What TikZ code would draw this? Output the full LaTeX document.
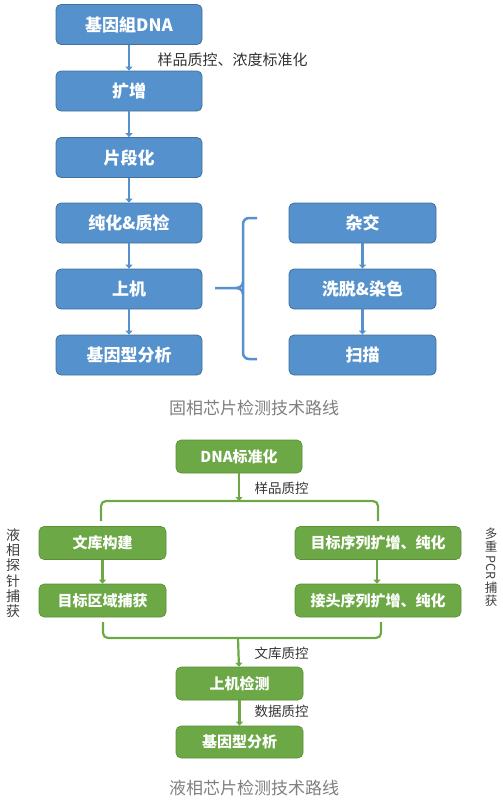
\documentclass[tikz,border=0pt]{standalone}
\usepackage{fontspec}
\setmainfont{Noto Sans CJK SC}
\usetikzlibrary{arrows.meta}
\definecolor{chipblue}{HTML}{5591CC}
\definecolor{chipblueline}{HTML}{41719C}
\definecolor{chipgreen}{HTML}{6CA845}
\definecolor{chipgreenline}{HTML}{5A8F38}
\definecolor{captiongray}{HTML}{7F7F7F}
\tikzset{
  bluebox/.style={draw=chipblueline, fill=chipblue, rounded corners=5pt, line width=0.8pt,
    minimum width=146pt, minimum height=40pt, text=white, font=\fontsize{17}{19}\selectfont\bfseries},
  greenbox/.style={draw=chipgreenline, fill=chipgreen, rounded corners=5pt, line width=0.6pt,
    minimum height=33pt, text=white, font=\fontsize{15}{17}\selectfont\bfseries},
  steplabel/.style={anchor=west, font=\fontsize{13.5}{15}\selectfont, text=black!80},
  caption/.style={font=\fontsize{17}{19}\selectfont, text=captiongray},
  sidechar/.style={inner sep=0pt, font=\fontsize{14}{15}\selectfont, text=black!75}
}
\begin{document}
\begin{tikzpicture}[x=1pt, y=-1pt]
      \useasboundingbox (0,0) rectangle (503,800);
      % solid phase
      \node[bluebox] (genome) at (129,24.5) {基因組DNA};
      \node[bluebox] (amplify) at (129,91) {扩增};
      \node[bluebox] (fragment) at (129,157.5) {片段化};
      \node[bluebox] (purify) at (129,223) {纯化\&质检};
      \node[bluebox] (load) at (129,289) {上机};
      \node[bluebox] (genotype) at (129,355) {基因型分析};
      \node[bluebox, minimum width=147pt] (hybrid) at (362.5,223) {杂交};
      \node[bluebox, minimum width=147pt] (wash) at (362.5,289) {洗脱\&染色};
      \node[bluebox, minimum width=147pt] (scan) at (362.5,355) {扫描};
      \node[steplabel, font=\fontsize{15}{17}\selectfont] (normlabel) at (154,60) {样品质控、浓度标准化};
      \begin{scope}[draw=chipblue, line width=2.2pt, -{Triangle[width=7pt,length=4pt]}]
        \draw (genome) to (amplify);
        \draw (amplify) to (fragment);
        \draw (fragment) to (purify);
        \draw (purify) to (load);
        \draw (load) to (genotype);
        \draw (hybrid) to (wash);
        \draw (wash) to (scan);
      \end{scope}
      % brace
      \coordinate (bracetop) at (257,218);
      \coordinate (bracebottom) at (257,359);
      \coordinate (bracestem) at (215,288);
      \draw[chipblue, line width=2.5pt, rounded corners=6pt] (bracetop) -- (243,218) -- (243,359) -- (bracebottom);
      \draw[chipblue, line width=2.5pt] (bracestem) -- (236,288) to[out=0, in=-90] (243,282);
      \draw[chipblue, line width=2.5pt] (236,288) to[out=0, in=90] (243,294);
      \node[caption] (solidcaption) at (254,408) {固相芯片检测技术路线};
      % liquid phase
      \node[greenbox, minimum width=126pt] (dnanorm) at (239,456.5) {DNA标准化};
      \node[greenbox, minimum width=127pt] (library) at (102.5,543) {文库构建};
      \node[greenbox, minimum width=127pt] (capture) at (102.5,600.5) {目标区域捕获};
      \node[greenbox, minimum width=166pt] (targetamp) at (378,543) {目标序列扩增、纯化};
      \node[greenbox, minimum width=166pt] (adapteramp) at (378,600.5) {接头序列扩增、纯化};
      \node[greenbox, minimum width=127pt] (sequence) at (239.5,683.5) {上机检测};
      \node[greenbox, minimum width=127pt, minimum height=32pt] (genotyping) at (239.5,742) {基因型分析};
      \node[steplabel] (qclabel) at (251,488) {样品质控};
      \node[steplabel] (libqclabel) at (251,653) {文库质控};
      \node[steplabel] (dataqclabel) at (251,711) {数据质控};
      % side labels, one character at a time
      \foreach \ch [count=\i from 0] in {液,相,探,针,捕,获}
        \node[sidechar] (probe\i) at (13,535+15.3*\i) {\ch};
      \node[sidechar, font=\fontsize{12.5}{14}\selectfont] (pcr0) at (491,534) {多};
      \node[sidechar, font=\fontsize{12.5}{14}\selectfont] (pcr1) at (491,547) {重};
      \node[sidechar, font=\fontsize{12.5}{14}\selectfont, rotate=-90] (pcr2) at (491,567.5) {PCR};
      \node[sidechar, font=\fontsize{12.5}{14}\selectfont] (pcr3) at (491,588) {捕};
      \node[sidechar, font=\fontsize{12.5}{14}\selectfont] (pcr4) at (491,601) {获};
      \coordinate (splitmid) at (239,501);
      \coordinate (joinmid) at (238,638);
      \draw[chipgreen, line width=2.2pt, rounded corners=5pt] (101,521) -- (101,501) -- (378,501) -- (378,521);
      \draw[chipgreen, line width=2.2pt, rounded corners=5pt] (103,622) -- (103,638) -- (381,638) -- (381,622);
      \begin{scope}[draw=chipgreen, line width=2.2pt, -{Triangle[width=7pt,length=4pt]}]
        \draw (dnanorm) to (splitmid);
        \draw (library) to (capture);
        \draw (targetamp.south -| 377,0) to (adapteramp.north -| 377,0);
        \draw (joinmid) to (sequence);
        \draw (sequence) to (genotyping);
      \end{scope}
      \node[caption] (liquidcaption) at (254,788) {液相芯片检测技术路线};
    \end{tikzpicture}
\end{document}
